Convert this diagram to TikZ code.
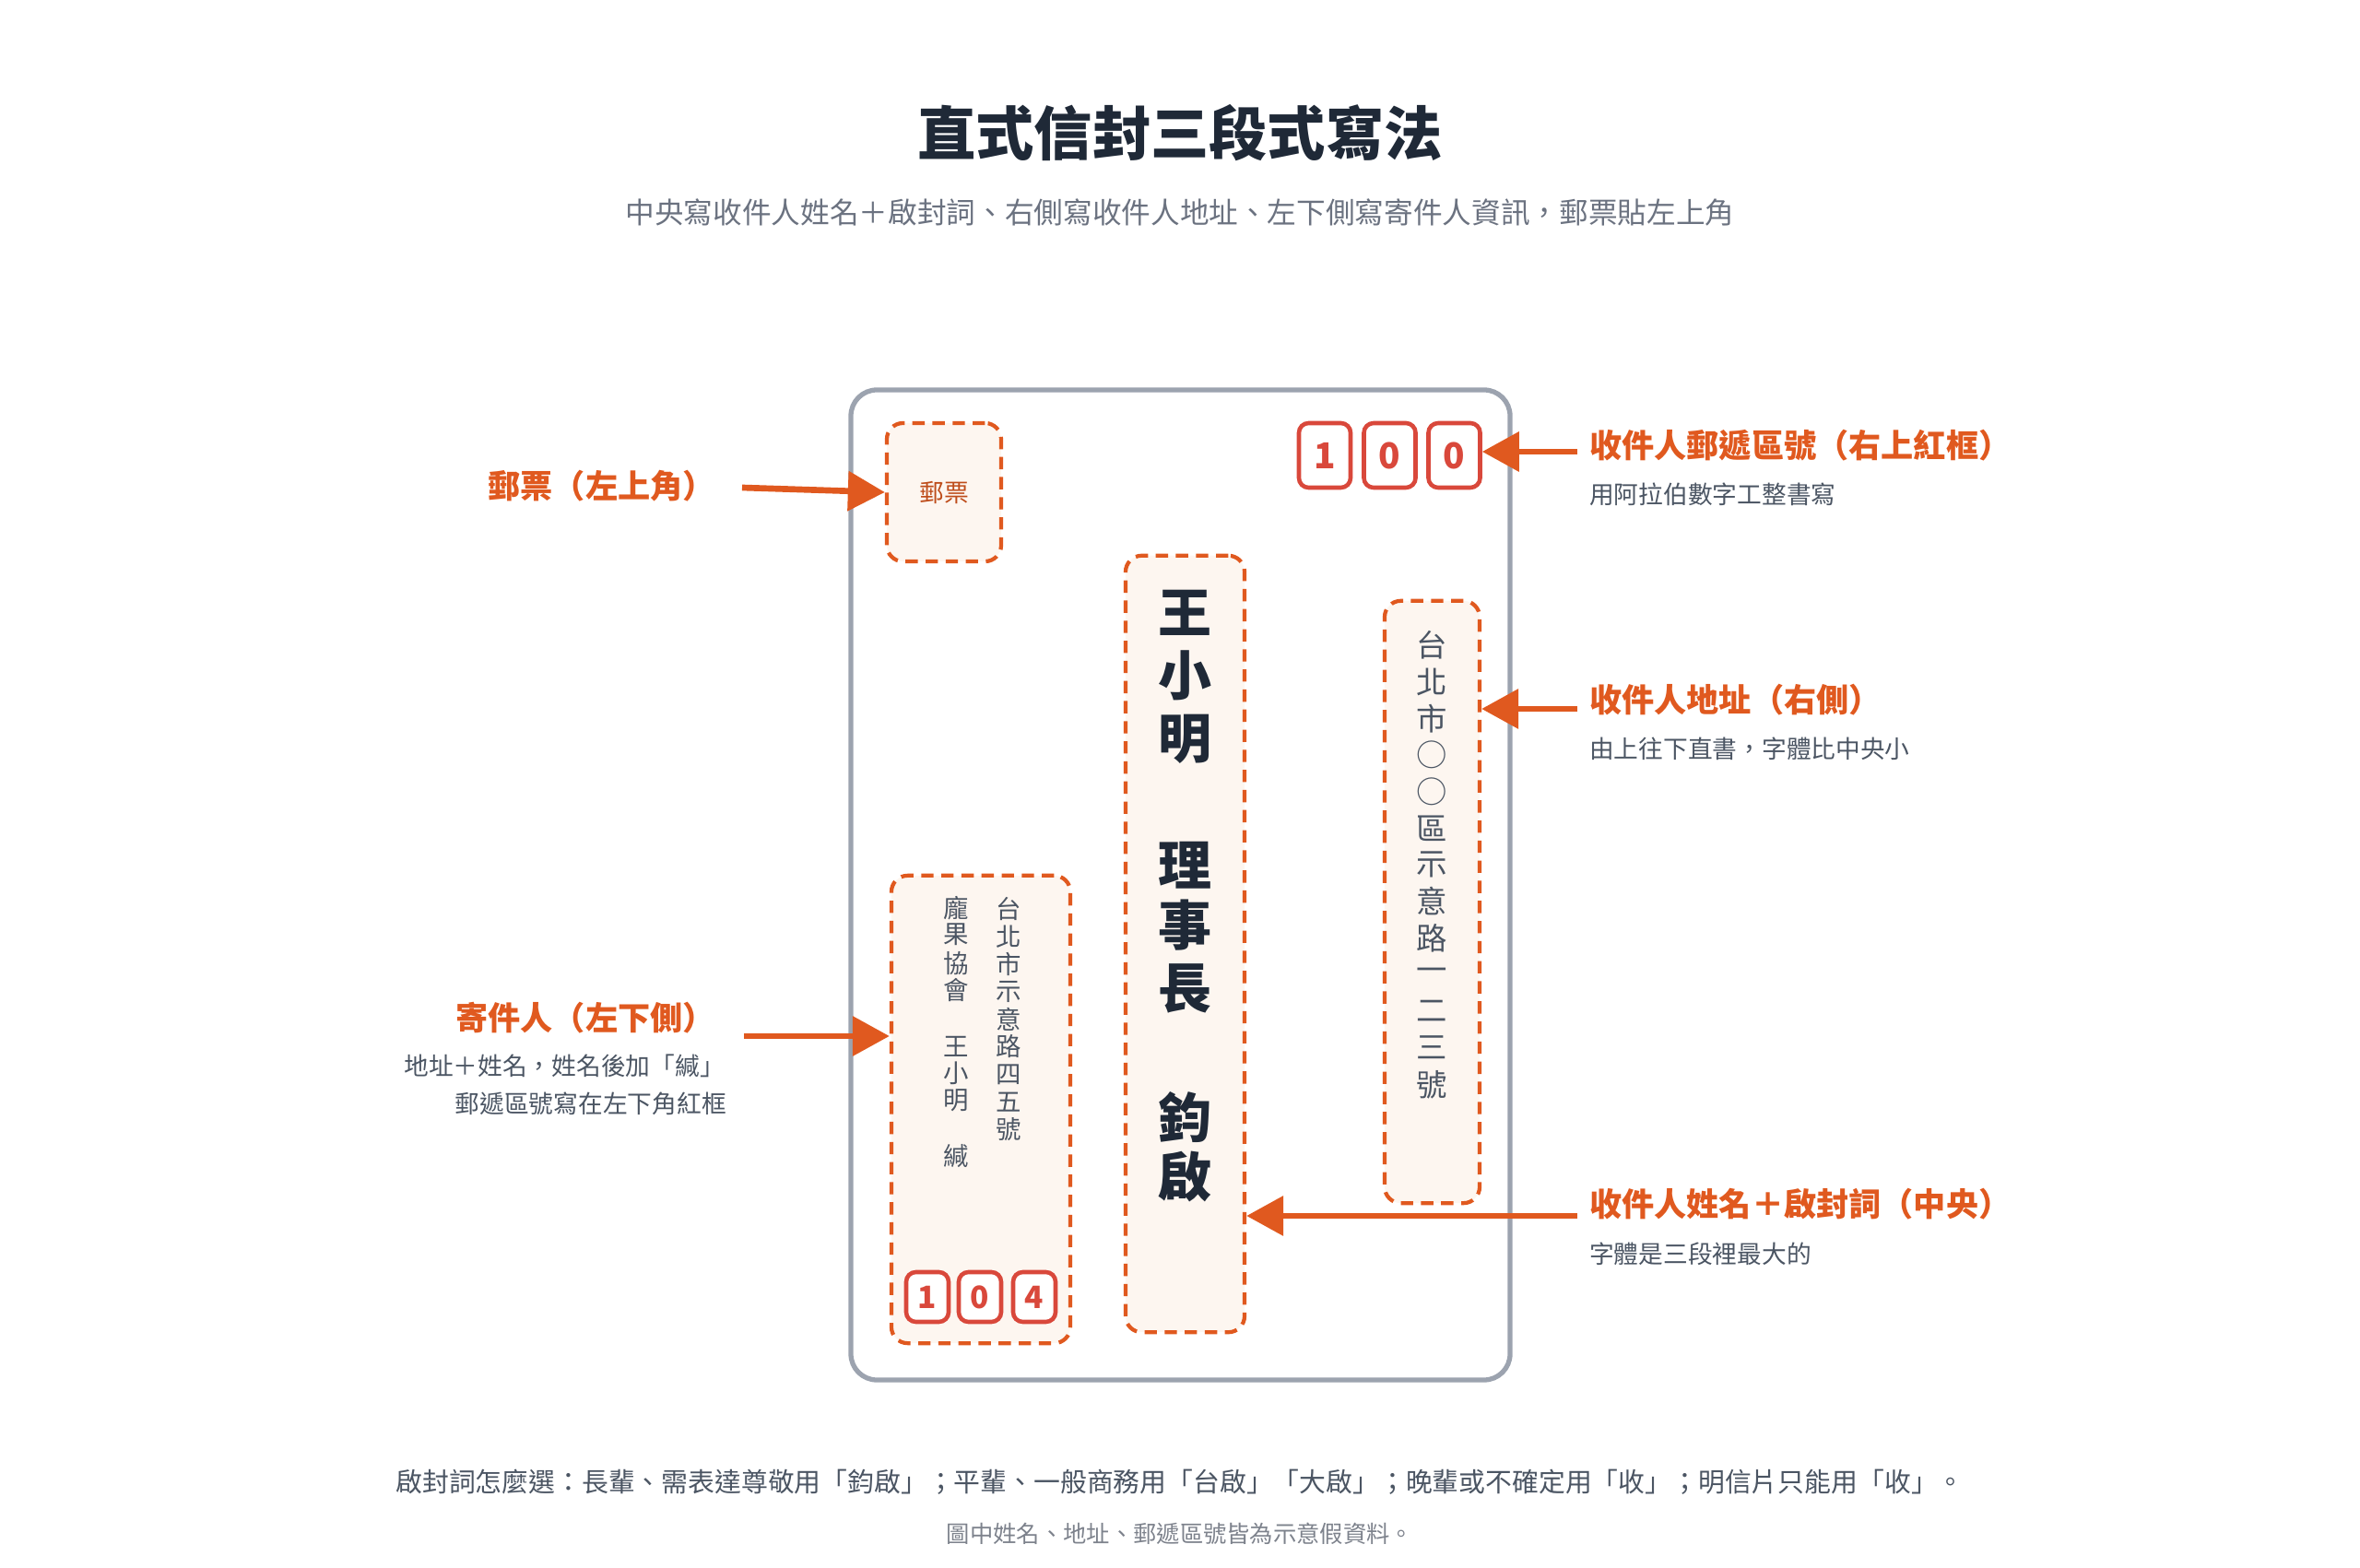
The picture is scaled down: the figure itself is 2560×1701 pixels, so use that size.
\documentclass[tikz,border=0pt]{standalone}
\usepackage{fontspec}
\setmainfont{Noto Sans CJK TC}
\newfontfamily\cjkbold{Noto Sans CJK TC}[BoldFont={* Bold}]
\usetikzlibrary{arrows.meta}
\definecolor{ink}{HTML}{1F2937}
\definecolor{mute}{HTML}{4B5563}
\definecolor{soft}{HTML}{6B7280}
\definecolor{accent}{HTML}{E0591F}
\definecolor{zipred}{HTML}{D9483B}
\definecolor{paper}{HTML}{FDF6F0}
\definecolor{frame}{HTML}{9CA3AF}
\tikzset{
  fs/.style={font=\fontsize{#1}{#1}\selectfont},
  dashbox/.style={draw=accent, fill=paper, line width=1.2pt, dash pattern=on 3.8pt off 2.4pt, rounded corners=5pt, inner sep=0pt},
  zip/.style={draw=zipred, fill=white, line width=1.3pt, rounded corners=3pt, inner sep=0pt, text=zipred, font=\bfseries\fontsize{#1}{#1}\selectfont},
  lbl/.style={text=accent, font=\bfseries\fontsize{10}{10}\selectfont, inner sep=1pt},
  note/.style={text=mute, fs=7.6, inner sep=1pt},
  pointer/.style={accent, line width=1.9pt, -{Triangle[length=4mm,width=4.2mm]}},
}
\begin{document}
\begin{tikzpicture}
  [
    x=0.01cm, y=-0.01cm,
  ]
    \useasboundingbox (0,0) rectangle (2560,1701);

    % heading
    \node (title) [text=ink, font=\bfseries\fontsize{18}{18}\selectfont] at (1280,144) {直式信封三段式寫法};
    \node (sub) [text=soft, fs=9] at (1280,230) {中央寫收件人姓名＋啟封詞、右側寫收件人地址、左下側寫寄件人資訊，郵票貼左上角};

    % envelope
    \draw [frame, line width=1.5pt, rounded corners=8pt] (923,423) rectangle (1638,1497);

    % stamp
    \node (stamp) [dashbox, minimum width=1.24cm, minimum height=1.5cm] at (1024,534) {};
    \node [text=accent!85!black, fs=7.6] at (stamp) {郵票};

    % receiver zip
    \foreach \d/\x [count=\i] in {1/1437,0/1507.5,0/1577.5}
      \node (zipr\i) [zip=11, minimum width=0.56cm, minimum height=0.7cm] at (\x,494) {\d};

    % receiver name
    \node (name) [dashbox, minimum width=1.29cm, minimum height=8.42cm] at (1285.5,1024) {};
    \foreach \c/\y in {王/665,小/733,明/802,理/939,事/1004,長/1073,鈞/1212,啟/1277}
      \node [text=ink, font=\bfseries\fontsize{16.5}{16.5}\selectfont] at (1285,\y) {\c};

    % receiver address
    \node (addr) [dashbox, minimum width=1.03cm, minimum height=6.53cm] at (1553.5,978.5) {};
    \foreach \c [count=\i] in {台,北,市,○,○,區,示,意,路,一,二,三,號}
      \node [text=mute, fs=9.5] at (1553,700 + 39.7*\i - 39.7) {\c};

    % sender
    \node (sender) [dashbox, minimum width=1.94cm, minimum height=5.07cm] at (1064,1203.5) {};
    \foreach \c [count=\i] in {台,北,市,示,意,路,四,五,號}
      \node [text=mute, fs=7.8] at (1094,986 + 29.9*\i - 29.9) {\c};
    \foreach \c/\y in {龐/985,果/1014,協/1045,會/1074,王/1135,小/1164,明/1194,緘/1254}
      \node [text=mute, fs=7.8] at (1037,\y) {\c};
    \foreach \d/\x [count=\i] in {1/1006,0/1063,4/1122}
      \node (zips\i) [zip=9.5, minimum width=0.46cm, minimum height=0.54cm] at (\x,1407) {\d};

    % callouts
    \node (lstamp) [lbl, anchor=east] at (780,527) {郵票（左上角）};
    \draw [pointer] (lstamp.east) ++(25,2) coordinate (s1) -- (stamp.west);

    \node (lzip) [lbl, anchor=west] at (1720,483) {收件人郵遞區號（右上紅框）};
    \node [note, anchor=west] at (1720,536) {用阿拉伯數字工整書寫};
    \coordinate (z1) at (1711,490);
    \draw [pointer] (z1) -- (zipr3.east |- z1);

    \node (laddr) [lbl, anchor=west] at (1720,759) {收件人地址（右側）};
    \node [note, anchor=west] at (1720,812) {由上往下直書，字體比中央小};
    \coordinate (a1) at (1711,769);
    \draw [pointer] (a1) -- (addr.east |- a1);

    \node (lsend) [lbl, anchor=east] at (780,1104) {寄件人（左下側）};
    \node [note, anchor=east] at (790,1156) {地址＋姓名，姓名後加「緘」};
    \node [note, anchor=east] at (792,1197) {郵遞區號寫在左下角紅框};
    \coordinate (p1) at (807,1124);
    \draw [pointer] (p1) -- (sender.west |- p1);

    \node (lname) [lbl, anchor=west] at (1720,1306) {收件人姓名＋啟封詞（中央）};
    \node [note, anchor=west] at (1720,1360) {字體是三段裡最大的};
    \coordinate (n1) at (1711,1319);
    \draw [pointer] (n1) -- (name.east |- n1);

    % footer
    \node (foot) [text=mute, fs=8.2] at (1280,1608) {啟封詞怎麼選：長輩、需表達尊敬用「鈞啟」；平輩、一般商務用「台啟」「大啟」；晚輩或不確定用「收」；明信片只能用「收」。};
    \node (foot2) [text=frame!80!black, fs=7.2] at (1280,1664) {圖中姓名、地址、郵遞區號皆為示意假資料。};
  \end{tikzpicture}
\end{document}
